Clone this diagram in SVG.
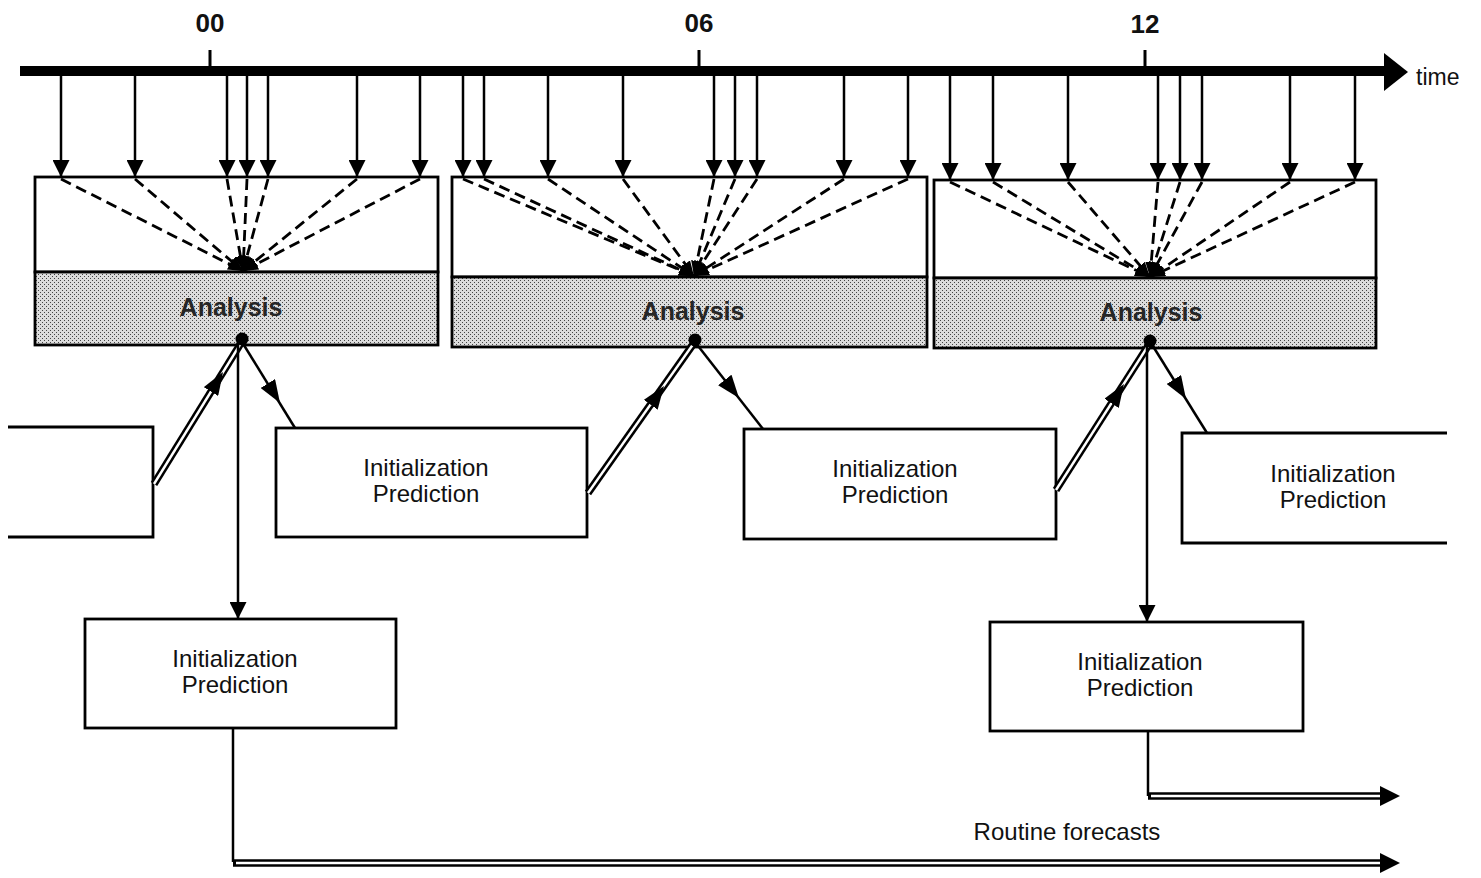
<svg xmlns="http://www.w3.org/2000/svg" width="1481" height="878" viewBox="0 0 1481 878">
<style>
.t{font-family:"Liberation Sans",Arial,sans-serif;fill:#111}
.lbl{font-size:24px;text-anchor:middle}
.tick{font-size:26px;font-weight:bold;text-anchor:middle}
.ana{font-size:25px;font-weight:bold;text-anchor:middle;fill:#262626}
.box{fill:#fff;stroke:#000;stroke-width:2.8}
.open{fill:none;stroke:#000;stroke-width:2.8}
.shade{fill:url(#stip);stroke:#000;stroke-width:2.8}
.obs{stroke:#000;stroke-width:2.5;fill:none;marker-end:url(#ah)}
.dash{stroke:#000;stroke-width:2.8;fill:none;stroke-dasharray:11 6;marker-end:url(#ahd)}
.ln{stroke:#000;stroke-width:2.5;fill:none}
.dblo{stroke:#000;stroke-width:7.5;fill:none}
.dbli{stroke:#fff;stroke-width:2.4;fill:none}
.mid{stroke:none;fill:none;marker-end:url(#ahm)}
</style>
<defs>
<pattern id="stip" width="4" height="4" patternUnits="userSpaceOnUse">
<rect width="4" height="4" fill="#dcdcdc"/>
<rect x="0" y="0" width="1" height="1" fill="#444"/>
<rect x="2" y="2" width="1" height="1" fill="#444"/>
</pattern>
<marker id="ah" markerUnits="userSpaceOnUse" markerWidth="17" markerHeight="17" refX="17" refY="8.5" orient="auto"><path d="M0,0 L17,8.5 L0,17 z" fill="#000"/></marker>
<marker id="ahd" markerUnits="userSpaceOnUse" markerWidth="15" markerHeight="12" refX="15" refY="6" orient="auto"><path d="M0,0 L15,6 L0,12 z" fill="#000"/></marker>
<marker id="ahm" markerUnits="userSpaceOnUse" markerWidth="23" markerHeight="17" refX="23" refY="8.5" orient="auto"><path d="M0,0 L23,8.5 L0,17 z" fill="#000"/></marker>
<marker id="ahv" markerUnits="userSpaceOnUse" markerWidth="17" markerHeight="17" refX="17" refY="8.5" orient="auto"><path d="M0,0 L17,8.5 L0,17 z" fill="#000"/></marker>
</defs>
<rect width="1481" height="878" fill="#fff"/>

<g id="time-axis">
<line x1="20" y1="71" x2="1388" y2="71" stroke="#000" stroke-width="10"/>
<polygon points="1384,53 1408,72 1384,91" fill="#000"/>
<line x1="210" y1="50" x2="210" y2="68" stroke="#000" stroke-width="3"/>
<line x1="699" y1="50" x2="699" y2="68" stroke="#000" stroke-width="3"/>
<line x1="1145" y1="50" x2="1145" y2="68" stroke="#000" stroke-width="3"/>
<text class="t tick" x="210" y="32">00</text>
<text class="t tick" x="699" y="32">06</text>
<text class="t tick" x="1145" y="33">12</text>
<text class="t" x="1416" y="85" font-size="23">time</text>
</g>

<g id="analysis-00">
<rect class="box" x="35" y="177" width="403" height="95"/>
<rect class="shade" x="35" y="272" width="403" height="73"/>
<text class="t ana" x="231" y="316">Analysis</text>
</g>
<g id="analysis-06">
<rect class="box" x="452" y="177" width="475" height="100"/>
<rect class="shade" x="452" y="277" width="475" height="70"/>
<text class="t ana" x="693" y="320">Analysis</text>
</g>
<g id="analysis-12">
<rect class="box" x="934" y="180" width="442" height="98"/>
<rect class="shade" x="934" y="278" width="442" height="70"/>
<text class="t ana" x="1151" y="321">Analysis</text>
</g>

<g id="pred-prev">
<polyline class="open" points="8,427 153,427 153,537 8,537"/>
</g>
<g id="pred-00a">
<rect class="box" x="276" y="428" width="311" height="109"/>
<text class="t lbl" x="426" y="476">Initialization</text>
<text class="t lbl" x="426" y="502">Prediction</text>
</g>
<g id="pred-06">
<rect class="box" x="744" y="429" width="312" height="110"/>
<text class="t lbl" x="895" y="477">Initialization</text>
<text class="t lbl" x="895" y="503">Prediction</text>
</g>
<g id="pred-12a">
<polyline class="open" points="1447,433 1182,433 1182,543 1447,543"/>
<text class="t lbl" x="1333" y="482">Initialization</text>
<text class="t lbl" x="1333" y="508">Prediction</text>
</g>
<g id="pred-00-routine">
<rect class="box" x="85" y="619" width="311" height="109"/>
<text class="t lbl" x="235" y="667">Initialization</text>
<text class="t lbl" x="235" y="693">Prediction</text>
</g>
<g id="pred-12-routine">
<rect class="box" x="990" y="622" width="313" height="109"/>
<text class="t lbl" x="1140" y="670">Initialization</text>
<text class="t lbl" x="1140" y="696">Prediction</text>
</g>
<g id="routine-label">
<text class="t" x="1067" y="840" font-size="24" text-anchor="middle">Routine forecasts</text>
</g>

<g id="connectors">
<!-- observations 00 -->
<line class="obs" x1="61" y1="76" x2="61" y2="177"/>
<line class="obs" x1="135" y1="76" x2="135" y2="177"/>
<line class="obs" x1="227" y1="76" x2="227" y2="177"/>
<line class="obs" x1="247" y1="76" x2="247" y2="177"/>
<line class="obs" x1="268" y1="76" x2="268" y2="177"/>
<line class="obs" x1="357" y1="76" x2="357" y2="177"/>
<line class="obs" x1="420" y1="76" x2="420" y2="177"/>
<line class="dash" x1="61" y1="179" x2="243" y2="271"/>
<line class="dash" x1="135" y1="179" x2="243" y2="271"/>
<line class="dash" x1="227" y1="179" x2="243" y2="271"/>
<line class="dash" x1="247" y1="179" x2="243" y2="271"/>
<line class="dash" x1="268" y1="179" x2="243" y2="271"/>
<line class="dash" x1="357" y1="179" x2="243" y2="271"/>
<line class="dash" x1="420" y1="179" x2="243" y2="271"/>
<!-- observations 06 -->
<line class="obs" x1="463" y1="76" x2="463" y2="177"/>
<line class="obs" x1="484" y1="76" x2="484" y2="177"/>
<line class="obs" x1="548" y1="76" x2="548" y2="177"/>
<line class="obs" x1="623" y1="76" x2="623" y2="177"/>
<line class="obs" x1="714" y1="76" x2="714" y2="177"/>
<line class="obs" x1="735" y1="76" x2="735" y2="177"/>
<line class="obs" x1="757" y1="76" x2="757" y2="177"/>
<line class="obs" x1="844" y1="76" x2="844" y2="177"/>
<line class="obs" x1="908" y1="76" x2="908" y2="177"/>
<line class="dash" x1="463" y1="179" x2="694" y2="276"/>
<line class="dash" x1="484" y1="179" x2="694" y2="276"/>
<line class="dash" x1="548" y1="179" x2="694" y2="276"/>
<line class="dash" x1="623" y1="179" x2="694" y2="276"/>
<line class="dash" x1="714" y1="179" x2="694" y2="276"/>
<line class="dash" x1="735" y1="179" x2="694" y2="276"/>
<line class="dash" x1="757" y1="179" x2="694" y2="276"/>
<line class="dash" x1="844" y1="179" x2="694" y2="276"/>
<line class="dash" x1="908" y1="179" x2="694" y2="276"/>
<!-- observations 12 -->
<line class="obs" x1="950" y1="76" x2="950" y2="180"/>
<line class="obs" x1="993" y1="76" x2="993" y2="180"/>
<line class="obs" x1="1068" y1="76" x2="1068" y2="180"/>
<line class="obs" x1="1158" y1="76" x2="1158" y2="180"/>
<line class="obs" x1="1180" y1="76" x2="1180" y2="180"/>
<line class="obs" x1="1202" y1="76" x2="1202" y2="180"/>
<line class="obs" x1="1290" y1="76" x2="1290" y2="180"/>
<line class="obs" x1="1355" y1="76" x2="1355" y2="180"/>
<line class="dash" x1="950" y1="182" x2="1150" y2="277"/>
<line class="dash" x1="993" y1="182" x2="1150" y2="277"/>
<line class="dash" x1="1068" y1="182" x2="1150" y2="277"/>
<line class="dash" x1="1158" y1="182" x2="1150" y2="277"/>
<line class="dash" x1="1180" y1="182" x2="1150" y2="277"/>
<line class="dash" x1="1202" y1="182" x2="1150" y2="277"/>
<line class="dash" x1="1290" y1="182" x2="1150" y2="277"/>
<line class="dash" x1="1355" y1="182" x2="1150" y2="277"/>

<!-- analysis 00 outputs -->
<path class="dblo" d="M154,484 L241,343"/>
<path class="dbli" d="M154,484 L241,343"/>
<path class="mid" d="M154,484 L223,372"/>
<path class="ln" d="M242,342 L295,428"/>
<path class="mid" d="M242,342 L280,403"/>
<line x1="238" y1="342" x2="238" y2="619" class="ln" marker-end="url(#ahv)"/>
<circle cx="242" cy="339" r="6.5" fill="#000"/>

<!-- analysis 06 outputs -->
<path class="dblo" d="M588,493 L694,343"/>
<path class="dbli" d="M588,493 L694,343"/>
<path class="mid" d="M588,493 L664,386"/>
<path class="ln" d="M695,342 L763,429"/>
<path class="mid" d="M695,342 L739,398"/>
<circle cx="695" cy="340" r="6.5" fill="#000"/>

<!-- analysis 12 outputs -->
<path class="dblo" d="M1056,490 L1148,346"/>
<path class="dbli" d="M1056,490 L1148,346"/>
<path class="mid" d="M1056,490 L1124,384"/>
<path class="ln" d="M1151,343 L1207,433"/>
<path class="mid" d="M1151,343 L1186,399"/>
<line x1="1147" y1="345" x2="1147" y2="622" class="ln" marker-end="url(#ahv)"/>
<circle cx="1150" cy="341" r="6.5" fill="#000"/>

<!-- routine forecasts -->
<path class="ln" d="M233,728 L233,862"/>
<path class="dblo" d="M233,863 L1384,863"/>
<path class="dbli" d="M236,863 L1384,863"/>
<polygon points="1380,853 1400,863 1380,873" fill="#000"/>
<path class="ln" d="M1148,731 L1148,796"/>
<path class="dblo" d="M1148,796 L1384,796"/>
<path class="dbli" d="M1151,796 L1384,796"/>
<polygon points="1380,786 1400,796 1380,806" fill="#000"/>
</g>
</svg>
